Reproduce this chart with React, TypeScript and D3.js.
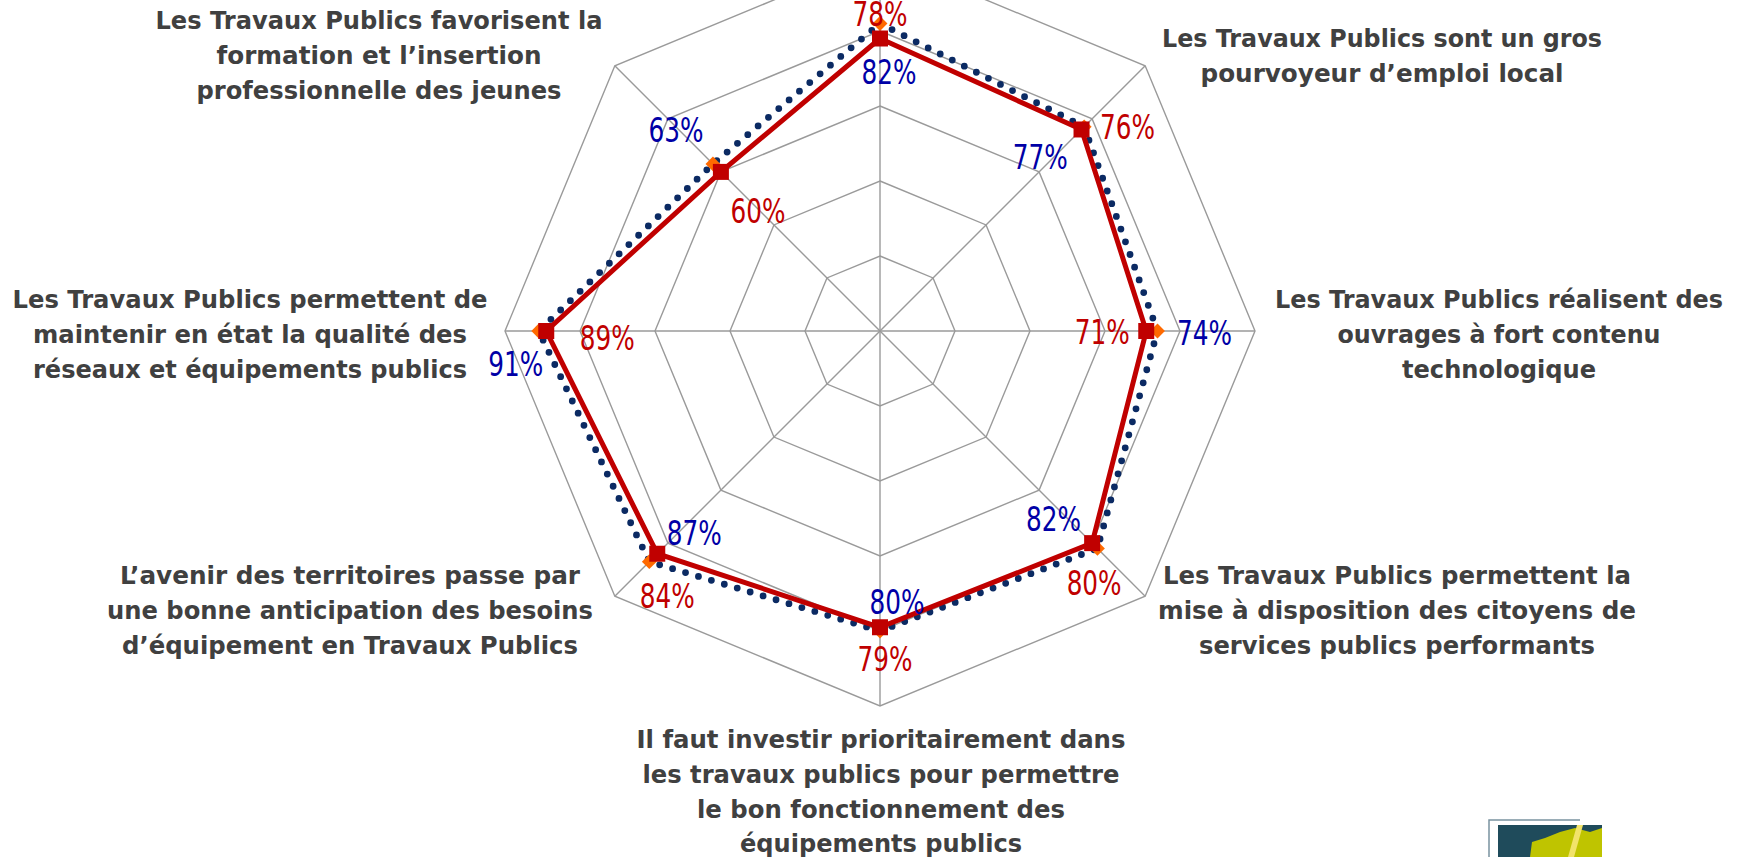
import React from "react";
import * as d3 from "d3";

// ---- data ----
const categories: string[][] = [
  [], // top axis label lies outside the visible frame
  ["Les Travaux Publics sont un gros", "pourvoyeur d\u2019emploi local"],
  ["Les Travaux Publics réalisent des", "ouvrages à fort contenu", "technologique"],
  ["Les Travaux Publics permettent la", "mise à disposition des  citoyens de", "services publics performants"],
  ["Il faut investir prioritairement dans", "les travaux publics pour permettre", "le bon fonctionnement  des", "équipements publics"],
  ["L\u2019avenir des territoires passe par", "une bonne anticipation des besoins", "d\u2019équipement en Travaux Publics"],
  ["Les Travaux Publics permettent  de", "maintenir en état la qualité des", "réseaux et équipements  publics"],
  ["Les Travaux Publics favorisent la", "formation et l\u2019insertion", "professionnelle des  jeunes"],
];
const seriesRed: number[] = [78, 76, 71, 80, 79, 84, 89, 60];
const seriesBlue: number[] = [82, 77, 74, 82, 80, 87, 91, 63];
const ringTicks: number[] = [20, 40, 60, 80, 100];

// ---- layout (label placement) ----
const W = 1748, H = 857;
const cx = 880, cy = 331, R = 375;
const redLabelOffset: [number, number][] = [
  [0, -25], [46, -3], [-44, 1], [2, 40], [5, 32], [10, 42], [61, 7], [37, 39],
];
const blueLabelOffset: [number, number][] = [
  [9, 48], [-44, 30], [47, 2], [-44, -30], [17, -29], [45, -29], [-23, 33], [-37, -34],
];
const catLayout: { x: number; y: number; widths: number[] }[] = [
  { x: 880, y: -60, widths: [] },
  { x: 1382, y: 38, widths: [440, 363] },
  { x: 1499, y: 299, widths: [448, 323, 194] },
  { x: 1397, y: 575, widths: [468, 478, 396] },
  { x: 881, y: 739, widths: [489, 477, 368, 282] },
  { x: 350, y: 575, widths: [460, 486, 456] },
  { x: 250, y: 299, widths: [475, 434, 434] },
  { x: 379, y: 20, widths: [447, 325, 365] },
];
const linePitch = 34.8;

const RED = "#C00000";
const BLUE_TXT = "#0000A6";
const NAVY = "#0B2A63";
const ORANGE = "#FF6A00";
const GRID = "#9A9A9A";
const TXT = "#404040";

export default function App() {
  const n = seriesRed.length;
  const r = d3.scaleLinear().domain([0, 100]).range([0, R]);
  const ang = (i: number) => (i * 2 * Math.PI) / n;
  const pt = (i: number, v: number): [number, number] => [
    cx + r(v) * Math.sin(ang(i)),
    cy - r(v) * Math.cos(ang(i)),
  ];
  const radial = d3
    .lineRadial<number>()
    .angle((_, i) => ang(i))
    .radius((d) => r(d))
    .curve(d3.curveLinearClosed);

  const squarePath = d3.symbol().type(d3.symbolSquare).size(16 * 16)()!;
  const diamondPath = d3.symbol().type(d3.symbolSquare).size(10.5 * 10.5)()!;

  return (
    <svg
      width={W}
      height={H}
      viewBox={`0 0 ${W} ${H}`}
      style={{ position: "absolute", left: 0, top: 0, display: "block", background: "#fff" }}
    >
      <rect x={0} y={0} width={W} height={H} fill="#fff" />
      <g transform={`translate(${cx},${cy})`}>
        {ringTicks.map((t) => (
          <path key={t} d={radial(new Array(n).fill(t))!} fill="none" stroke={GRID} strokeWidth={1.4} />
        ))}
        {seriesRed.map((_, i) => (
          <line
            key={i}
            x1={0}
            y1={0}
            x2={r(100) * Math.sin(ang(i))}
            y2={-r(100) * Math.cos(ang(i))}
            stroke={GRID}
            strokeWidth={1.4}
          />
        ))}
        <path
          d={radial(seriesBlue)!}
          fill="none"
          stroke={NAVY}
          strokeWidth={6.8}
          strokeDasharray="0 13.5"
          strokeLinecap="round"
        />
      </g>
      {seriesBlue.map((v, i) => {
        const [x, y] = pt(i, v);
        return <path key={"d" + i} d={diamondPath} transform={`translate(${x},${y}) rotate(45)`} fill={ORANGE} />;
      })}
      <g transform={`translate(${cx},${cy})`}>
        <path d={radial(seriesRed)!} fill="none" stroke={RED} strokeWidth={5} strokeLinejoin="miter" />
      </g>
      {seriesRed.map((v, i) => {
        const [x, y] = pt(i, v);
        return <path key={"s" + i} d={squarePath} transform={`translate(${x},${y})`} fill={RED} />;
      })}
      {/* value labels */}
      {seriesRed.map((v, i) => {
        const [x, y] = pt(i, v);
        return (
          <text
            key={"rl" + i}
            x={x + redLabelOffset[i][0]}
            y={y + redLabelOffset[i][1]}
            dy="0.36em"
            textAnchor="middle"
            fontFamily="DejaVu Sans, sans-serif"
            fontSize={34}
            fill={RED}
            textLength={55}
            lengthAdjust="spacingAndGlyphs"
          >
            {v}%
          </text>
        );
      })}
      {seriesBlue.map((v, i) => {
        const [x, y] = pt(i, v);
        return (
          <text
            key={"bl" + i}
            x={x + blueLabelOffset[i][0]}
            y={y + blueLabelOffset[i][1]}
            dy="0.36em"
            textAnchor="middle"
            fontFamily="DejaVu Sans, sans-serif"
            fontSize={34}
            fill={BLUE_TXT}
            textLength={55}
            lengthAdjust="spacingAndGlyphs"
          >
            {v}%
          </text>
        );
      })}
      {/* category labels */}
      {categories.map((lines, i) =>
        lines.map((line, j) => (
          <text
            key={`c${i}-${j}`}
            x={catLayout[i].x}
            y={catLayout[i].y + j * linePitch}
            dy="0.36em"
            textAnchor="middle"
            fontFamily="DejaVu Sans, sans-serif"
            fontWeight="bold"
            fontSize={25}
            fill={TXT}
            textLength={catLayout[i].widths[j]}
            lengthAdjust="spacingAndGlyphs"
          >
            {line}
          </text>
        ))
      )}
      {/* logo fragment, bottom right */}
      <g>
        <path d="M1489,857 V820 H1580" fill="none" stroke="#7A93A0" strokeWidth={1.5} />
        <rect x={1498} y={825} width={104} height={32} fill="#1F4B5B" />
        <path d="M1530,857 L1532,842 L1545,838 L1560,832 L1575,828 L1590,832 L1602,828 L1602,857 Z" fill="#BFC400" />
        <path d="M1568,857 L1577,825 L1583,825 L1574,857 Z" fill="#F2E36A" />
      </g>
    </svg>
  );
}
